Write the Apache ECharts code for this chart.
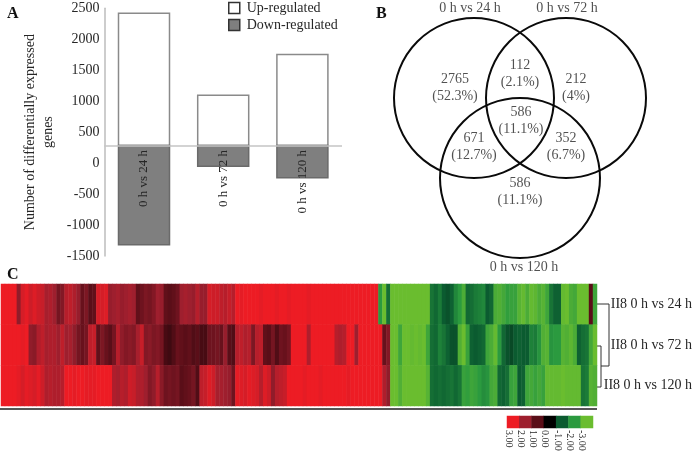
<!DOCTYPE html>
<html lang="en">
<head>
    <meta charset="UTF-8">
    <title>Differentially expressed genes</title>
    <script src="https://cdn.jsdelivr.net/npm/echarts@6.0.0/dist/echarts.min.js"></script>
    <style>
        html, body { margin: 0; padding: 0; background: #fff; }
    </style>
</head>
<body>
    <div id="main" style="width: 693px; height: 452px;"></div>

    <script>
        var FONT = '"Liberation Serif", "Times New Roman", serif';
        var INK = '#262626';

        // panel A
        var comparisons = ['0 h vs 24 h', '0 h vs 72 h', '0 h vs 120 h'];
        var barBase = 285;
        var upValues = [2420, 1095, 1755];
        var downValues = [-1320, -50, -235];

        // panel B
        var vennSets = ['0 h vs 24 h', '0 h vs 72 h', '0 h vs 120 h'];
        var vennCounts = ['2765', '112', '212', '586', '671', '352', '586'];
        var vennPercents = ['52.3%', '2.1%', '4%', '11.1%', '12.7%', '6.7%', '11.1%'];

        // panel C
        var heatRows = ['II8 0 h vs 24 h', 'II8 0 h vs 72 h', 'II8 0 h vs 120 h'];
        var row24 = [
            3,3,3,3,1.8,2.7,2.9,2.6,2.8,2.6,
            2.5,2.1,2.2,2,1.4,1.6,2.3,2.4,2.2,1.9,
            1.2,1.5,1,1.1,2.7,2.7,2.8,1.9,2,2.1,
            1.9,2,2.1,2,1.1,1.3,1.5,1.4,1.6,2,
            1.9,1.1,1,1.1,1.3,2,2.1,2,1.9,2.3,
            1.9,1.9,2.7,2.6,2.6,2.4,2.3,2.5,2.3,3,
            2.9,3,3,3,3,2.9,3,3,3,2.9,
            3,3,2.9,3,3,3,3,2.9,3,3,
            3,3,3,3,3,3,3,3,3,3,
            3,3,3,3,3,-2,-3,-1.3,-3,-3,
            -3,-3,-3,-3,-3,-3,-3,-3,-1.4,-1.2,
            -1.5,-1,-0.9,-1.1,-1.7,-2,-2.5,-1.2,-1.3,-1.5,
            -1.6,-1.7,-1,-1.2,-2.5,-2.6,-2.4,-2.1,-2.2,-2.2,
            -2.7,-2.9,-2.5,-2.9,-2.8,-2.5,-2.7,-2.3,-1.4,-1.1,
            -1.1,-2.9,-3,-2.5,-2.4,-3,-3,-3,1,-2.3
        ];
        var row72 = [
            3,3,3,3,3,2.9,3,1.8,1.7,2.2,
            2.4,2.1,2.2,2.2,2,2.4,2,2.1,1.8,1.4,
            1.2,1.4,2.4,2.5,1.1,1.5,1.2,1,1.4,2.3,
            1.8,1.6,1.7,1.6,2.1,2.5,1.6,1.7,1.5,1.6,
            1.4,0.8,0.7,0.9,1.2,1.1,1,1.1,0.9,1,
            0.8,0.8,1.3,1.3,1.4,1.2,1.9,1,0.9,2.3,
            2.4,2.2,2.3,1.5,2.3,2.4,1.1,1,1.4,0.9,
            1.3,1.2,1.4,3,3,3,3,2.2,3,3,
            3,3,3,3,2.3,2.2,2.3,3,3,2,
            3,3,3,3,3,3,1.2,1.6,-3,-3,
            -2.3,-3,-3,-2.9,-3,-2.9,-3,-2.3,-1.3,-1.2,
            -1.6,-1.4,-1.1,-0.9,-0.9,-2.6,-3,-2.2,-1.1,-1,
            -1.1,-1.2,-2.3,-2.5,-2.9,-2,-1.2,-0.9,-0.8,-1,
            -1.1,-1,-1,-1.6,-1.5,-1.9,-2.6,-2.7,-1.9,-2,
            -2,-2.7,-2.6,-2.8,-2.5,-1.1,-1.3,-1.4,-2.4,-3
        ];
        var row120 = [
            3,3,3,3,2.9,2.7,2.9,2.8,2.7,2.9,
            2.6,2.2,2.3,2.2,2.2,2.3,3,3,2.9,3,
            3,2.9,2.9,2.9,3,3,3,3,2.2,2.1,
            2.3,2.2,2.6,2.5,2.2,2.2,2,1.6,1.8,2.3,
            1.7,1.3,1.4,1.3,1.4,1,1.1,1.2,1.4,0.9,
            2.4,2.5,2.8,2.6,2.1,2.1,2,1.9,1.3,2.9,
            2.8,2.7,2.9,2.8,2.7,2.3,2.8,2.6,1.8,2.3,
            2.4,2.5,3,3,3,3,2.9,3,3,3,
            2.9,3,3,3,3,3,3,2.9,3,3,
            3,3,3,3,3,3,2.2,1.8,-3,-3,
            -2.6,-3,-3,-3,-3,-3,-3,-2.7,-1.3,-1.2,
            -1.3,-1.2,-1.3,-1.4,-1.2,-1.4,-2.2,-2.1,-2.3,-2.2,
            -2,-1.8,-1.9,-2.4,-2.5,-1.2,-1.1,-1.3,-2.2,-2.3,
            -1,-1.1,-2.3,-2.4,-2.2,-2.4,-2.2,-2.9,-2.9,-2.9,
            -2.9,-3,-2.9,-2.9,-2.9,-2.9,-1.4,-1.5,-2.7,-2.6
        ];
        var scaleValues = [3, 2, 1, 0, -1, -2, -3];
        var scaleLabels = ['3.00', '2.00', '1.00', '0.00', '-1.00', '-2.00', '-3.00'];
        var scaleColors = ['#6abd2f', '#2b9a3f', '#0b5b30', '#000000', '#5a0e18', '#9e1f2e', '#ed1c24'];

        // 画布上的手工布局
        var vennCenters = [[474, 98], [566, 98], [520, 178]];
        var vennCountPos = [[455, 88], [520, 74], [576, 88], [521, 121], [474, 147], [566, 147], [520, 192]];
        var vennSetPos = [[470, 8], [567, 8], [524, 267]];

        function barItem(base, values, name) {
            return {
                name: name,
                type: 'custom',
                xAxisIndex: 0,
                yAxisIndex: 0,
                data: values.map(function (v, i) { return [i, v]; }),
                renderItem: function (params, api) {
                    var p0 = api.coord([api.value(0), base]);
                    var p1 = api.coord([api.value(0), api.value(1)]);
                    var w = 51;
                    return {
                        type: 'rect',
                        shape: { x: p0[0] - w / 2, y: Math.min(p0[1], p1[1]), width: w, height: Math.abs(p1[1] - p0[1]) },
                        style: api.style()
                    };
                }
            };
        }

        var heatData = [];
        [row24, row72, row120].forEach(function (row, y) {
            row.forEach(function (v, x) { heatData.push([x, y, v]); });
        });
        var heatColumns = row24.map(function (v, i) { return String(i); });

        var upSeries = barItem(barBase, upValues, 'Up-regulated');
        upSeries.itemStyle = { color: '#ffffff', borderColor: '#8a8a8a', borderWidth: 1.5 };
        upSeries.markLine = {
            silent: true,
            symbol: 'none',
            label: { show: false },
            lineStyle: { color: '#c4c4c4', width: 1.5, type: 'solid' },
            data: [{ yAxis: barBase }]
        };
        var downSeries = barItem(barBase, downValues, 'Down-regulated');
        downSeries.itemStyle = { color: '#7f7f7f', borderColor: '#6a6a6a', borderWidth: 1.5 };

        function serifText(x, y, text, size, weight, color) {
            return {
                type: 'text',
                x: x,
                y: y,
                style: {
                    text: text,
                    font: (weight || 'normal') + ' ' + size + 'px ' + FONT,
                    fill: color || INK,
                    textVerticalAlign: 'middle'
                }
            };
        }

        var option = {
            backgroundColor: '#ffffff',
            animation: false,
            textStyle: { fontFamily: FONT },
            legend: {
                left: 228,
                top: 1,
                padding: 0,
                orient: 'vertical',
                itemWidth: 11,
                itemHeight: 11,
                itemGap: 3,
                selectedMode: false,
                textStyle: { fontFamily: FONT, fontSize: 14, color: INK, padding: [0, 0, 0, 2] },
                data: [
                    { name: 'Up-regulated', icon: 'rect', itemStyle: { color: '#fff', borderColor: '#333', borderWidth: 1.5 } },
                    { name: 'Down-regulated', icon: 'rect', itemStyle: { color: '#7f7f7f', borderColor: '#333', borderWidth: 1.5 } }
                ]
            },
            visualMap: {
                show: false,
                type: 'continuous',
                min: -3,
                max: 3,
                seriesIndex: [2, 3],
                inRange: { color: scaleColors }
            },
            grid: [
                { left: 104.4, top: 8.3, width: 237.6, height: 247.7, outerBoundsMode: 'none' },
                { left: 350, top: 0, width: 343, height: 275, outerBoundsMode: 'none' },
                { left: 1, top: 284, width: 596, height: 122, outerBoundsMode: 'none' },
                { left: 507, top: 416, width: 86, height: 12, outerBoundsMode: 'none' },
                { left: 502, top: 416, width: 86, height: 12, outerBoundsMode: 'none' }   // 色标文字比色块偏左
            ],
            xAxis: [
                {
                    gridIndex: 0,
                    type: 'category',
                    data: comparisons,
                    z: 10,
                    axisLine: { show: false, onZero: false },
                    axisTick: { show: false },
                    axisLabel: { rotate: 90, margin: -106, interval: 0, fontSize: 13, color: INK, fontFamily: FONT }
                },
                { gridIndex: 1, type: 'value', min: 350, max: 693, show: false },
                { gridIndex: 2, type: 'category', data: heatColumns, show: false },
                { gridIndex: 3, type: 'category', data: scaleLabels, show: false },
                {
                    gridIndex: 4,
                    type: 'category',
                    data: scaleLabels,
                    axisLine: { show: false },
                    axisTick: { show: false },
                    axisLabel: { rotate: -90, margin: 2, interval: 0, fontSize: 10, color: INK, fontFamily: FONT }
                }
            ],
            yAxis: [
                {
                    gridIndex: 0,
                    type: 'value',
                    min: -1500,
                    max: 2500,
                    interval: 500,
                    name: 'Number of differentially expressed\ngenes',
                    nameLocation: 'middle',
                    nameGap: 47,
                    nameRotate: 90,
                    nameTextStyle: { fontSize: 14, color: INK, fontFamily: FONT, lineHeight: 18 },
                    splitLine: { show: false },
                    axisTick: { show: false },
                    axisLine: { show: true, lineStyle: { color: '#bdbdbd', width: 1.5 } },
                    axisLabel: {
                        fontSize: 14, color: INK, fontFamily: FONT, margin: 5,
                        formatter: function (v) { return String(v); }
                    }
                },
                { gridIndex: 1, type: 'value', min: 0, max: 275, inverse: true, show: false },
                {
                    gridIndex: 2,
                    type: 'category',
                    data: heatRows,
                    inverse: true,
                    position: 'right',
                    axisLine: { show: false },
                    axisTick: { show: false },
                    axisLabel: { fontSize: 14, color: INK, fontFamily: FONT, align: 'right', margin: 95 }
                },
                { gridIndex: 3, type: 'category', data: ['scale'], show: false },
                { gridIndex: 4, type: 'category', data: ['scale'], show: false }
            ],
            series: [
                upSeries,
                downSeries,
                {
                    type: 'heatmap',
                    xAxisIndex: 2,
                    yAxisIndex: 2,
                    data: heatData,
                    progressive: 0,
                    itemStyle: { borderWidth: 0 }
                },
                {
                    type: 'heatmap',
                    xAxisIndex: 3,
                    yAxisIndex: 3,
                    data: scaleValues.map(function (v, i) { return [i, 0, v]; }),
                    itemStyle: { borderWidth: 0 }
                },
                {
                    type: 'scatter',
                    xAxisIndex: 1,
                    yAxisIndex: 1,
                    symbol: 'circle',
                    symbolSize: 160,
                    clip: false,
                    itemStyle: { color: 'rgba(0,0,0,0)', borderColor: '#0a0a0a', borderWidth: 2, opacity: 1 },
                    data: vennCenters
                },
                {
                    type: 'scatter',
                    xAxisIndex: 1,
                    yAxisIndex: 1,
                    symbolSize: 0,
                    clip: false,
                    label: {
                        show: true,
                        position: 'inside',
                        fontSize: 14,
                        lineHeight: 17,
                        color: INK,
                        fontFamily: FONT,
                        formatter: function (p) { return vennCounts[p.dataIndex] + '\n(' + vennPercents[p.dataIndex] + ')'; }
                    },
                    data: vennCountPos
                },
                {
                    type: 'scatter',
                    xAxisIndex: 1,
                    yAxisIndex: 1,
                    symbolSize: 0,
                    clip: false,
                    label: {
                        show: true,
                        position: 'inside',
                        fontSize: 14,
                        color: INK,
                        fontFamily: FONT,
                        formatter: function (p) { return vennSets[p.dataIndex]; }
                    },
                    data: vennSetPos
                }
            ],
            graphic: [
                serifText(7, 14, 'A', 16, 'bold', '#111'),
                serifText(376, 14, 'B', 16, 'bold', '#111'),
                serifText(7, 275, 'C', 16, 'bold', '#111'),
                { type: 'rect', shape: { x: 0, y: 408, width: 597, height: 2 }, style: { fill: '#555' } },
                {
                    type: 'polyline',
                    shape: { points: [[597, 304], [609, 304], [609, 366], [601, 366]] },
                    style: { stroke: '#333', lineWidth: 1, fill: null }
                },
                {
                    type: 'polyline',
                    shape: { points: [[597, 346], [601, 346], [601, 387], [597, 387]] },
                    style: { stroke: '#333', lineWidth: 1, fill: null }
                }
            ]
        };

        var chart = echarts.init(document.getElementById('main'), null, { renderer: 'canvas' });
        chart.setOption(option);
    </script>
</body>
</html>
